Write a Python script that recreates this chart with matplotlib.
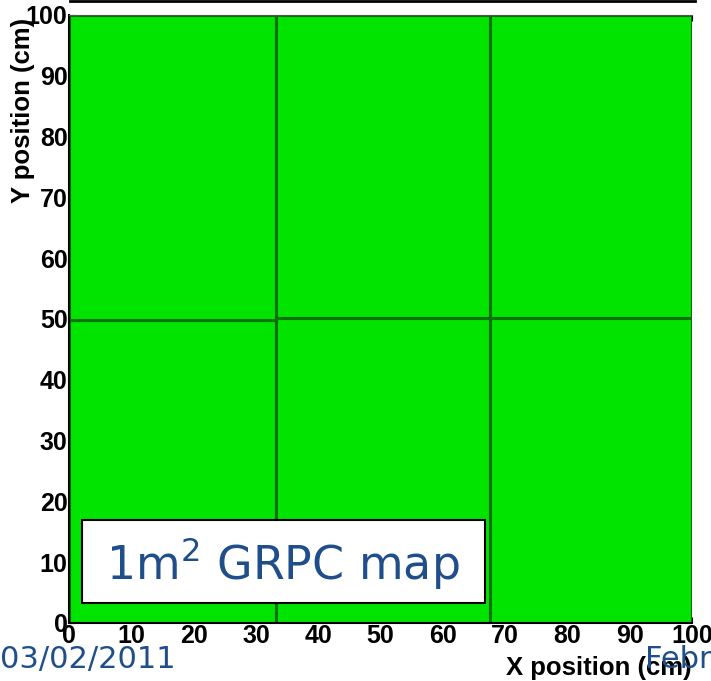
import matplotlib.pyplot as plt
from matplotlib.patches import Rectangle
from matplotlib.lines import Line2D

# chamber cells of the 1 m2 GRPC: (x0, x1, y0, y1) in cm
cell_x0 = [0.0, 0.0, 33.2, 33.2, 67.6, 67.6]
cell_x1 = [33.2, 33.2, 67.6, 67.6, 100.0, 100.0]
cell_y0 = [0.0, 49.8, 0.0, 50.2, 0.0, 50.2]
cell_y1 = [49.8, 100.0, 50.2, 100.0, 50.2, 100.0]

x_ticks = [0, 10, 20, 30, 40, 50, 60, 70, 80, 90, 100]
y_ticks = [0, 10, 20, 30, 40, 50, 60, 70, 80, 90, 100]

blue = '#1f4e8a'
fill = '#00e400'
edge = '#0a700a'

fig = plt.figure(figsize=(7.11, 6.81), dpi=100)
ax = fig.add_axes([69 / 711, 58 / 681, 623 / 711, 608 / 681])

for x0, x1, y0, y1 in zip(cell_x0, cell_x1, cell_y0, cell_y1):
    ax.add_patch(Rectangle((x0, y0), x1 - x0, y1 - y0, facecolor=fill,
                           edgecolor=edge, linewidth=2.2, zorder=1))

ax.set_xlim(0, 100)
ax.set_ylim(0, 100)
ax.set_axisbelow(True)
ax.set_xticks(x_ticks)
ax.set_yticks(y_ticks)
ax.tick_params(axis='both', labelsize=18, pad=1, length=4, direction='in')
ax.tick_params(axis='x', top=True)
for lab in ax.get_xticklabels() + ax.get_yticklabels():
    lab.set_fontweight('bold')
    lab.set_family('Liberation Sans')
ax.spines['right'].set_visible(False)
ax.spines['top'].set_color('#555555')
ax.spines['left'].set_linewidth(1.5)
ax.spines['bottom'].set_linewidth(1.5)

ax.set_xlabel('X position (cm)', fontsize=18.5, fontweight='bold',
              family='Liberation Sans', labelpad=0)
ax.xaxis.set_label_coords(1.0, -0.055)
ax.xaxis.label.set_horizontalalignment('right')
ax.set_ylabel('Y position (cm)', fontsize=18.5, fontweight='bold',
              family='Liberation Sans', labelpad=0)
ax.yaxis.set_label_coords(-0.074, 0.995)
ax.yaxis.label.set_horizontalalignment('right')
ax.yaxis.label.set_verticalalignment('center')

# title box
ax.add_patch(Rectangle((2.1, 3.3), 64.7, 13.6, facecolor='white',
                       edgecolor='black', linewidth=1.5, zorder=3))
ax.text(34.4, 9.8, r'1m$^\mathregular{2}$ GRPC map', fontsize=33, color=blue,
        ha='center', va='center', zorder=4)

fig.text(0, 681 - 668, '03/02/2011', transform=None, fontsize=22,
         color=blue, va='baseline')
fig.text(645, 681 - 668, 'February', transform=None, fontsize=22,
         color=blue, va='baseline')
fig.add_artist(Line2D([70 / 711, 695 / 711], [680 / 681, 680 / 681],
                      color='black', linewidth=2))

fig.savefig('out.png', dpi=100)
